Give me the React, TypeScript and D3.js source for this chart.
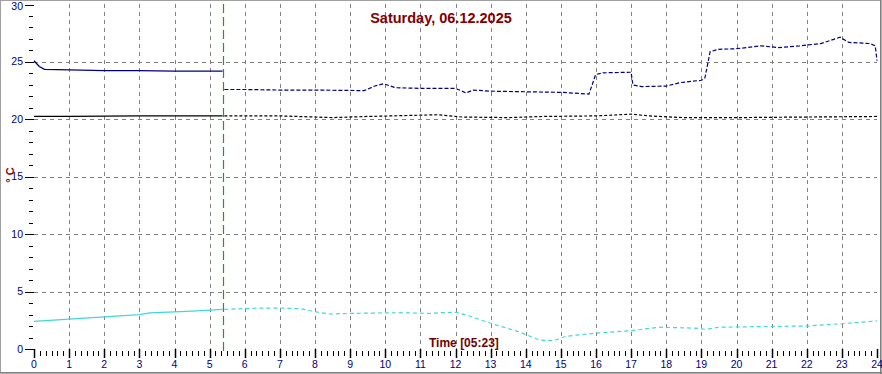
import React from "react";
import * as d3 from "d3";

const TITLE = "Saturday, 06.12.2025";
const CURSOR_LABEL = "Time [05:23]";
const CURSOR_HOUR = 5 + 23 / 60;
const Y_LABEL = "° C";

const xTicks = d3.range(0, 25, 1);
const yTicks = [0, 5, 10, 15, 20, 25, 30];

const blueT = [0, 0.15, 0.3, 1, 2, 3, 4, 5.37, 5.42, 6, 7, 8, 9.4, 9.7, 9.95, 10.3, 11, 12.0, 12.3, 12.5, 13, 14, 15, 15.8, 15.99, 16.2, 17.0, 17.05, 17.3, 18, 18.4, 19, 19.1, 19.25, 19.5, 20, 20.7, 21.2, 21.8, 22.4, 22.95, 23.2, 23.8, 23.95, 24];
const blueV = [25.1, 24.6, 24.35, 24.3, 24.25, 24.25, 24.2, 24.2, 22.6, 22.6, 22.55, 22.55, 22.5, 22.9, 23.1, 22.75, 22.7, 22.7, 22.3, 22.55, 22.45, 22.4, 22.35, 22.2, 23.9, 24.05, 24.1, 23.0, 22.85, 22.9, 23.2, 23.4, 23.6, 25.9, 26.1, 26.15, 26.4, 26.25, 26.4, 26.6, 27.15, 26.7, 26.6, 26.4, 25.1];

const blackT = [0, 1, 2, 3, 4, 5.37, 5.42, 7, 8.5, 9.5, 11.5, 12.2, 13.5, 14.5, 16, 17, 17.5, 18.5, 20, 22, 24];
const blackV = [20.25, 20.25, 20.28, 20.3, 20.3, 20.3, 20.3, 20.3, 20.15, 20.25, 20.4, 20.2, 20.15, 20.25, 20.3, 20.45, 20.3, 20.15, 20.15, 20.2, 20.25];

const cyanT = [0, 1, 2, 3, 3.3, 4.5, 5.37, 5.42, 6.3, 7, 7.6, 8.1, 8.4, 9, 10.4, 11.3, 11.6, 12.0, 12.3, 13, 13.8, 14.4, 14.8, 15.1, 15.4, 16.1, 17, 17.8, 18.95, 19.1, 19.5, 20.7, 22, 23, 24];
const cyanV = [2.4, 2.6, 2.8, 3.0, 3.15, 3.3, 3.45, 3.45, 3.55, 3.57, 3.5, 3.2, 3.05, 3.1, 3.16, 3.1, 3.16, 3.2, 2.96, 2.24, 1.5, 0.78, 0.72, 1.07, 1.2, 1.4, 1.6, 1.9, 1.8, 1.7, 1.9, 1.95, 2.0, 2.2, 2.45];

const W = 882;
const H = 374;

export default function App() {
  const x = d3.scaleLinear().domain([0, 24]).range([34, 877]);
  const y = d3.scaleLinear().domain([0, 30]).range([349, 4.5]);
  const line = d3
    .line<[number, number]>()
    .x((d) => x(d[0]))
    .y((d) => y(d[1]));

  const series = [
    { t: blueT, v: blueV, color: "#000080", dash: "4,2" },
    { t: blackT, v: blackV, color: "#000000", dash: "3,2" },
    { t: cyanT, v: cyanV, color: "#40D8D8", dash: "4,3" },
  ];

  const minorX = d3.range(0, 24 * 6 + 1).filter((i) => i % 6 !== 0);
  const minorY = d3.range(0, 31).filter((i) => i % 5 !== 0);

  return (
    <svg
      width={W}
      height={H}
      style={{ position: "absolute", left: 0, top: 0, background: "#fff" }}
      fontFamily="'Liberation Sans', Arial, sans-serif"
    >
      <rect x={0.5} y={0.5} width={W - 2} height={H - 2} fill="#fff" stroke="#a0a0a0" />
      <line x1={W - 1} y1={0} x2={W - 1} y2={H} stroke="#606060" />
      <line x1={0} y1={H - 1} x2={W} y2={H - 1} stroke="#606060" />

      {/* grid */}
      {xTicks
        .filter((h) => h > 0 && h < 24)
        .map((h) => (
          <line
            key={"gx" + h}
            x1={Math.round(x(h)) + 0.5}
            x2={Math.round(x(h)) + 0.5}
            y1={4}
            y2={349}
            stroke="#808080"
            strokeDasharray="4,4"
          />
        ))}
      {yTicks
        .filter((v) => v > 0 && v < 30)
        .map((v) => (
          <line
            key={"gy" + v}
            x1={34}
            x2={877}
            y1={Math.round(y(v)) + 0.5}
            y2={Math.round(y(v)) + 0.5}
            stroke="#808080"
            strokeDasharray="4,4"
          />
        ))}

      {/* y axis ticks */}
      {yTicks.map((v) => (
        <g key={"yt" + v}>
          <line x1={25} x2={34} y1={Math.round(y(v)) + 0.5} y2={Math.round(y(v)) + 0.5} stroke="#000" />
          <text x={23} y={Math.max(y(v) + 3.5, 10)} textAnchor="end" fontSize={10.5} fill="#000080">
            {v}
          </text>
        </g>
      ))}
      {minorY.map((v) => (
        <line key={"ym" + v} x1={29} x2={33} y1={Math.round(y(v)) + 0.5} y2={Math.round(y(v)) + 0.5} stroke="#000" />
      ))}

      {/* x axis ticks */}
      {xTicks.map((h) => (
        <g key={"xt" + h}>
          <line x1={Math.round(x(h)) + 0.5} x2={Math.round(x(h)) + 0.5} y1={349} y2={358} stroke="#000" strokeWidth={1.5} />
          <text x={x(h)} y={368} textAnchor="middle" fontSize={10.5} fill="#000080">
            {h}
          </text>
        </g>
      ))}
      {minorX.map((i) => (
        <line
          key={"xm" + i}
          x1={Math.round(x(i / 6)) + 0.5}
          x2={Math.round(x(i / 6)) + 0.5}
          y1={351}
          y2={356}
          stroke="#000"
        />
      ))}

      {/* series */}
      {series.map((s, si) => {
        const pts: [number, number][] = s.t.map((t, i) => [t, s.v[i]]);
        const before = pts.filter((p) => p[0] <= CURSOR_HOUR);
        const after = pts.filter((p) => p[0] > CURSOR_HOUR);
        return (
          <g key={"s" + si}>
            <path d={line(before) || ""} fill="none" stroke={s.color} strokeWidth={1.3} />
            <path d={line(after) || ""} fill="none" stroke={s.color} strokeWidth={1.2} strokeDasharray={s.dash} />
          </g>
        );
      })}

      {/* cursor */}
      <line
        x1={Math.round(x(CURSOR_HOUR)) + 0.5}
        x2={Math.round(x(CURSOR_HOUR)) + 0.5}
        y1={4}
        y2={352}
        stroke="#1f9a1f"
        strokeWidth={1.2}
        strokeDasharray="9,4"
      />

      <text x={441} y={22.5} textAnchor="middle" fontSize={14.5} fontWeight="bold" fill="#800000">
        {TITLE}
      </text>
      <text x={429} y={347} fontSize={12} fontWeight="bold" fill="#700000">
        {CURSOR_LABEL}
      </text>
      <text
        transform="translate(14,175) rotate(-90)"
        textAnchor="middle"
        fontSize={11}
        fontWeight="bold"
        fill="#800000"
      >
        {Y_LABEL}
      </text>
    </svg>
  );
}
